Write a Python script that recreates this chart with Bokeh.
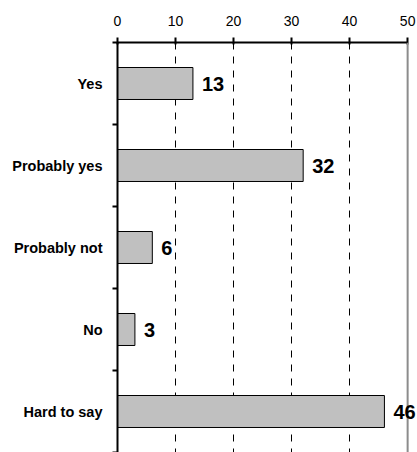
from bokeh.plotting import figure
from bokeh.models import (ColumnDataSource, Range1d, FixedTicker, LabelSet, Span)
from bokeh.core.properties import value
from bokeh.embed import file_html
from bokeh.resources import INLINE

categories = ["Yes", "Probably yes", "Probably not", "No", "Hard to say"]
values = [13, 32, 6, 3, 46]
x_ticks = [0, 10, 20, 30, 40, 50]

ypos = [i + 0.5 for i in range(len(categories))]
bounds = [float(i) for i in range(len(categories) + 1)]

source = ColumnDataSource(data=dict(cat=categories, val=values, y=ypos,
                                    lbl=[str(v) for v in values]))

# frame spans 0..51.7 so that the label of the longest bar is not clipped;
# the visible scale ends at 50 (axis bounds + border line)
p = figure(width=417, height=452, output_backend="svg", toolbar_location=None,
           x_axis_location="above",
           x_range=Range1d(0, 51.7), y_range=Range1d(5, 0),
           min_border_left=117, min_border_right=0, min_border_top=42,
           min_border_bottom=0)
p.outline_line_color = None
p.background_fill_color = "white"
p.border_fill_color = "white"

# grid
p.ygrid.visible = False
p.xgrid.ticker = FixedTicker(ticks=x_ticks[1:-1])
p.xgrid.grid_line_color = "black"
p.xgrid.grid_line_width = 1
p.xgrid.grid_line_dash = "7 7"

# bars
p.hbar(y="y", right="val", left=0, height=0.39, source=source,
       fill_color="#C0C0C0", line_color="black", line_width=1)

# right border line
p.add_layout(Span(location=x_ticks[-1], dimension="height",
                  line_color="#8c8c8c", line_width=2))

# value labels
labels = LabelSet(x="val", y="y", text="lbl", source=source, x_offset=9,
                  text_baseline="middle", text_align="left",
                  text_font=value("Liberation Sans"), text_font_size="20px",
                  text_font_style="bold", text_color="black")
p.add_layout(labels)

# top axis
xa = p.xaxis[0]
xa.ticker = FixedTicker(ticks=x_ticks)
xa.bounds = (x_ticks[0], x_ticks[-1])
xa.axis_line_width = 2
xa.axis_line_color = "black"
xa.major_tick_line_width = 2
xa.major_tick_line_color = "black"
xa.major_tick_out = 5
xa.major_tick_in = 2
xa.minor_tick_line_color = None
xa.major_label_text_font = "Liberation Sans"
xa.major_label_text_font_size = "14px"
xa.major_label_text_color = "black"
xa.major_label_standoff = 12

# left axis
ya = p.yaxis[0]
ya.ticker = FixedTicker(ticks=ypos, minor_ticks=bounds)
ya.major_label_overrides = {y: c for y, c in zip(ypos, categories)}
ya.axis_line_width = 2
ya.axis_line_color = "black"
ya.major_tick_line_color = None
ya.major_tick_out = 0
ya.major_tick_in = 0
ya.minor_tick_line_color = "black"
ya.minor_tick_line_width = 2
ya.minor_tick_out = 5
ya.minor_tick_in = 0
ya.major_label_text_font = "Liberation Sans"
ya.major_label_text_font_size = "14.5px"
ya.major_label_text_font_style = "bold"
ya.major_label_text_color = "black"
ya.major_label_standoff = 10

open("out.html", "w").write(file_html(p, INLINE))
